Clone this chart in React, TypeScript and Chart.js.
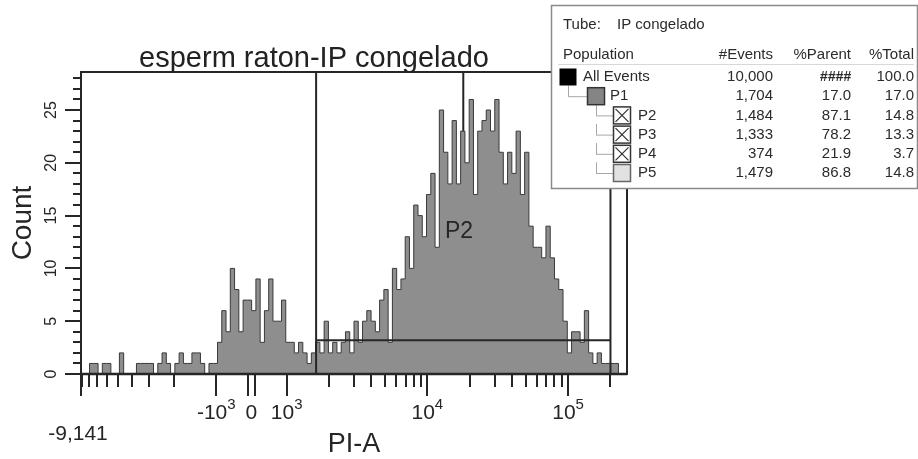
import React, { useEffect, useRef } from 'react';
import { Chart, registerables } from 'chart.js';

Chart.register(...registerables);

// ---------- texts ----------
const chartTitle = 'esperm raton-IP congelado';
const xAxisTitle = 'PI-A';
const yAxisTitle = 'Count';

// ---------- axis ranges ----------
const xRangeMin = -9141;
const xRangeMax = 262144;
const yRangeMax = 28.6;

// ---------- histogram (counts per display bin, evenly spaced on the biexponential axis) ----------
const binCounts = [
  0, 0, 0, 1, 1, 0, 1, 1, 0, 0,
  2, 0, 0, 0, 1, 1, 1, 1, 0, 1,
  2, 1, 0, 1, 2, 1, 1, 2, 2, 1,
  0, 1, 1, 3, 6, 4, 10, 8, 4, 7,
  7, 6, 9, 3, 6, 9, 5, 5, 7, 3,
  3, 2, 3, 2, 1, 2, 3, 2, 5, 2,
  3, 2, 3, 4, 2, 5, 3, 5, 6, 5,
  4, 7, 8, 3, 10, 8, 9, 13, 10, 16,
  15, 13, 17, 19, 12, 25, 21, 18, 24, 18,
  23, 20, 26, 17, 23, 24, 25, 23, 26, 21,
  18, 21, 19, 23, 17, 21, 14, 12, 12, 11,
  14, 11, 9, 8, 5, 2, 4, 4, 3, 6,
  2, 1, 2, 1, 1, 1, 1, 0,
];

// ---------- ticks ----------
const yTickValues = [0, 5, 10, 15, 20, 25];
const yMinorStep = 1;
const xLabelValues = [-1000, 0, 1000, 10000, 100000];
const xLabelBase = ['-10', '0', '10', '10', '10'];
const xLabelExp = ['3', '', '3', '4', '5'];
const xLongTickValues = [-9141, -1000, -100, 100, 1000, 10000, 100000];
const xShortTickValues = [
  -9000, -8000, -7000, -6000, -5000, -4000, -3000, -2000,
  2000, 3000, 4000, 5000, 6000, 7000, 8000, 9000,
  20000, 30000, 40000, 50000, 60000, 70000, 80000, 90000, 200000,
];
const xEndLabel = '-9,141';

// ---------- gates ----------
const gateOverValues = [1620, 200000];
const gateUnderValues = [18000];
const gateBarFrom = 1620;
const gateBarTo = 200000;
const gateBarCount = 3.2;
const gateLabel = 'P2';
const gateLabelValue = 16800;
const gateLabelCount = 13.5;

// ---------- population table ----------
const tubeName = 'IP congelado';
const tableColumns = ['Population', '#Events', '%Parent', '%Total'];
const popNames = ['All Events', 'P1', 'P2', 'P3', 'P4', 'P5'];
const popEvents = ['10,000', '1,704', '1,484', '1,333', '374', '1,479'];
const popParent = ['####', '17.0', '87.1', '78.2', '21.9', '86.8'];
const popTotal = ['100.0', '17.0', '14.8', '13.3', '3.7', '14.8'];
const popLevel = [0, 1, 2, 2, 2, 2];
const popIcon = ['solid', 'gray', 'cross', 'cross', 'cross', 'light'];

// biexponential display transform (linear near zero, log above)
const LIN_WIDTH = 1000;
const LIN_SPAN = 0.25;
function biex(v: number): number {
  const a = Math.abs(v);
  const d = a <= LIN_WIDTH ? (LIN_SPAN * a) / LIN_WIDTH : LIN_SPAN + Math.log10(a / LIN_WIDTH);
  return v < 0 ? -d : d;
}

const FONT = '"Liberation Sans", Arial, Helvetica, sans-serif';
const INK = '#262626';

function seg(ctx: CanvasRenderingContext2D, x1: number, y1: number, x2: number, y2: number) {
  ctx.beginPath();
  ctx.moveTo(x1, y1);
  ctx.lineTo(x2, y2);
  ctx.stroke();
}

function drawTable(ctx: CanvasRenderingContext2D) {
  const bx = 551, by = 5, bw = 366, bh = 183;
  ctx.save();
  ctx.fillStyle = '#ffffff';
  ctx.fillRect(bx, by, bw, bh);
  ctx.strokeStyle = '#8a8a8a';
  ctx.lineWidth = 1.5;
  ctx.strokeRect(bx + 0.5, by + 0.5, bw, bh);

  ctx.fillStyle = '#2b2b2b';
  ctx.textBaseline = 'middle';
  ctx.font = `15px ${FONT}`;
  ctx.textAlign = 'left';
  ctx.fillText('Tube:', 563, 25);
  ctx.fillText(tubeName, 617, 25);

  const colRight = [0, 773, 851, 914];
  const headerY = 55;
  ctx.font = `15px ${FONT}`;
  ctx.textAlign = 'left';
  ctx.fillText(tableColumns[0], 563, headerY);
  ctx.textAlign = 'right';
  for (let c = 1; c < 4; c++) ctx.fillText(tableColumns[c], colRight[c], headerY);
  ctx.strokeStyle = '#d8d8d8';
  ctx.lineWidth = 1;
  seg(ctx, 558, 64.5, 914, 64.5);

  const rowY0 = 77;
  const rowStep = 19.2;
  const iconX = [568, 596, 622];
  const nameX = [583, 610, 638];
  const size = 17;

  // tree lines
  ctx.strokeStyle = '#a8a8a8';
  ctx.lineWidth = 1;
  for (let i = 1; i < popNames.length; i++) {
    const lvl = popLevel[i];
    const parentX = iconX[lvl - 1];
    const yy = rowY0 + i * rowStep;
    const yPrev = rowY0 + (i - 1) * rowStep;
    seg(ctx, parentX + 0.5, yPrev + size / 2, parentX + 0.5, yy + 0.5);
    seg(ctx, parentX, yy + 0.5, iconX[lvl] - size / 2, yy + 0.5);
  }

  for (let i = 0; i < popNames.length; i++) {
    const yy = rowY0 + i * rowStep;
    const lvl = popLevel[i];
    const cx = iconX[lvl];
    const x0 = cx - size / 2, y0 = yy - size / 2;
    const kind = popIcon[i];
    ctx.lineWidth = 1.5;
    if (kind === 'solid') {
      ctx.fillStyle = '#000';
      ctx.fillRect(x0, y0, size, size);
    } else if (kind === 'gray') {
      ctx.fillStyle = '#858585';
      ctx.fillRect(x0, y0, size, size);
      ctx.strokeStyle = '#333';
      ctx.strokeRect(x0, y0, size, size);
    } else if (kind === 'cross') {
      ctx.fillStyle = '#fff';
      ctx.fillRect(x0, y0, size, size);
      ctx.strokeStyle = '#333';
      ctx.strokeRect(x0, y0, size, size);
      ctx.lineWidth = 1.2;
      seg(ctx, x0 + 2, y0 + 2, x0 + size - 2, y0 + size - 2);
      seg(ctx, x0 + size - 2, y0 + 2, x0 + 2, y0 + size - 2);
    } else {
      ctx.fillStyle = '#e2e2e2';
      ctx.fillRect(x0, y0, size, size);
      ctx.strokeStyle = '#666';
      ctx.strokeRect(x0, y0, size, size);
    }
    ctx.fillStyle = '#2b2b2b';
    ctx.font = `15px ${FONT}`;
    ctx.textAlign = 'left';
    ctx.fillText(popNames[i], nameX[lvl], yy);
    ctx.textAlign = 'right';
    ctx.fillText(popEvents[i], colRight[1], yy);
    ctx.font = popParent[i] === '####' ? `italic bold 14px ${FONT}` : `15px ${FONT}`;
    ctx.fillText(popParent[i], colRight[2], yy);
    ctx.font = `15px ${FONT}`;
    ctx.fillText(popTotal[i], colRight[3], yy);
  }
  ctx.restore();
}

const decor = {
  id: 'decor',
  beforeDatasetsDraw(chart: any) {
    const { ctx, chartArea: ca, scales } = chart;
    const xs = scales.x;
    ctx.save();
    ctx.strokeStyle = INK;
    ctx.lineWidth = 2;
    gateUnderValues.forEach((v) => {
      const px = xs.getPixelForValue(biex(v));
      seg(ctx, px, ca.top, px, ca.bottom);
    });
    ctx.restore();
  },
  afterDatasetsDraw(chart: any) {
    const { ctx, chartArea: ca, scales } = chart;
    const xs = scales.x;
    const ys = scales.y;
    const px = (v: number) => xs.getPixelForValue(biex(v));
    ctx.save();
    ctx.strokeStyle = INK;
    ctx.fillStyle = INK;
    ctx.lineWidth = 2;

    // gates over the histogram
    gateOverValues.forEach((v) => {
      const p = px(v);
      seg(ctx, p, ca.top, p, ca.bottom);
    });
    const gy = ys.getPixelForValue(gateBarCount);
    seg(ctx, px(gateBarFrom), gy, px(gateBarTo), gy);
    ctx.font = `23px ${FONT}`;
    ctx.textAlign = 'center';
    ctx.textBaseline = 'middle';
    ctx.fillText(gateLabel, px(gateLabelValue), ys.getPixelForValue(gateLabelCount));

    // frame
    ctx.lineWidth = 2;
    ctx.strokeRect(ca.left, ca.top, ca.right - ca.left, ca.bottom - ca.top);
    ctx.lineWidth = 2.5;
    seg(ctx, ca.left, ca.bottom, ca.right, ca.bottom);

    // y ticks
    ctx.lineWidth = 2;
    for (let v = 0; v <= yRangeMax; v += yMinorStep) {
      const p = Math.round(ys.getPixelForValue(v));
      const major = yTickValues.includes(v);
      seg(ctx, ca.left - (major ? 16 : 8), p, ca.left, p);
    }
    ctx.font = `16px ${FONT}`;
    ctx.textAlign = 'center';
    ctx.textBaseline = 'middle';
    yTickValues.forEach((v) => {
      const p = ys.getPixelForValue(v);
      ctx.save();
      ctx.translate(ca.left - 29, p);
      ctx.rotate(-Math.PI / 2);
      ctx.fillText(String(v), 0, 0);
      ctx.restore();
    });

    // x ticks
    xLongTickValues.forEach((v) => {
      const p = Math.round(px(v));
      seg(ctx, p, ca.bottom, p, ca.bottom + 22);
    });
    xShortTickValues.forEach((v) => {
      const p = Math.round(px(v));
      seg(ctx, p, ca.bottom, p, ca.bottom + 13);
    });
    xLabelValues.forEach((v, i) => {
      const p = px(v);
      ctx.font = `21px ${FONT}`;
      const bw = ctx.measureText(xLabelBase[i]).width;
      ctx.font = `15px ${FONT}`;
      const ew = xLabelExp[i] ? ctx.measureText(xLabelExp[i]).width : 0;
      const left = p - (bw + ew) / 2;
      ctx.textAlign = 'left';
      ctx.textBaseline = 'alphabetic';
      ctx.font = `21px ${FONT}`;
      ctx.fillText(xLabelBase[i], left, ca.bottom + 45);
      if (xLabelExp[i]) {
        ctx.font = `15px ${FONT}`;
        ctx.fillText(xLabelExp[i], left + bw, ca.bottom + 35);
      }
    });
    ctx.font = `21px ${FONT}`;
    ctx.textAlign = 'center';
    ctx.fillText(xEndLabel, px(xRangeMin) - 3, ca.bottom + 66);

    // axis titles
    ctx.font = `27px ${FONT}`;
    ctx.textAlign = 'center';
    ctx.textBaseline = 'middle';
    ctx.fillText(xAxisTitle, (ca.left + ca.right) / 2, ca.bottom + 71);
    ctx.save();
    ctx.font = `28px ${FONT}`;
    ctx.translate(ca.left - 58, (ca.top + ca.bottom) / 2);
    ctx.rotate(-Math.PI / 2);
    ctx.fillText(yAxisTitle, 0, 0);
    ctx.restore();

    // title
    ctx.font = `29px ${FONT}`;
    ctx.textAlign = 'center';
    ctx.textBaseline = 'alphabetic';
    ctx.fillStyle = '#222';
    ctx.fillText(chartTitle, 314, ca.top - 5);
    ctx.restore();

    drawTable(ctx);
  },
};

export default function App() {
  const ref = useRef<HTMLCanvasElement>(null);
  useEffect(() => {
    document.body.style.margin = '0';
    const canvas = ref.current!;
    const lo = biex(xRangeMin);
    const hi = biex(xRangeMax);
    const w = (hi - lo) / binCounts.length;
    const pts = binCounts.map((c, i) => ({ x: lo + i * w, y: c }));
    pts.push({ x: hi, y: binCounts[binCounts.length - 1] });
    const chart = new Chart(canvas, {
      type: 'line',
      data: {
        datasets: [
          {
            data: pts,
            stepped: 'after',
            fill: 'origin',
            backgroundColor: '#8e8e8e',
            borderColor: '#3a3a3a',
            borderWidth: 1,
            pointRadius: 0,
            tension: 0,
          } as any,
        ],
      },
      options: {
        responsive: false,
        maintainAspectRatio: false,
        animation: false,
        events: [],
        layout: { padding: { left: 81, top: 72, right: 291, bottom: 85 } },
        scales: {
          x: { type: 'linear', min: lo, max: hi, display: false },
          y: { type: 'linear', min: 0, max: yRangeMax, display: false },
        },
        plugins: {
          legend: { display: false },
          title: { display: false },
          tooltip: { enabled: false },
        },
      },
      plugins: [decor],
    });
    return () => chart.destroy();
  }, []);
  return (
    <div style={{ width: 918, height: 459 }}>
      <canvas ref={ref} width={918} height={459} style={{ display: 'block' }} />
    </div>
  );
}
